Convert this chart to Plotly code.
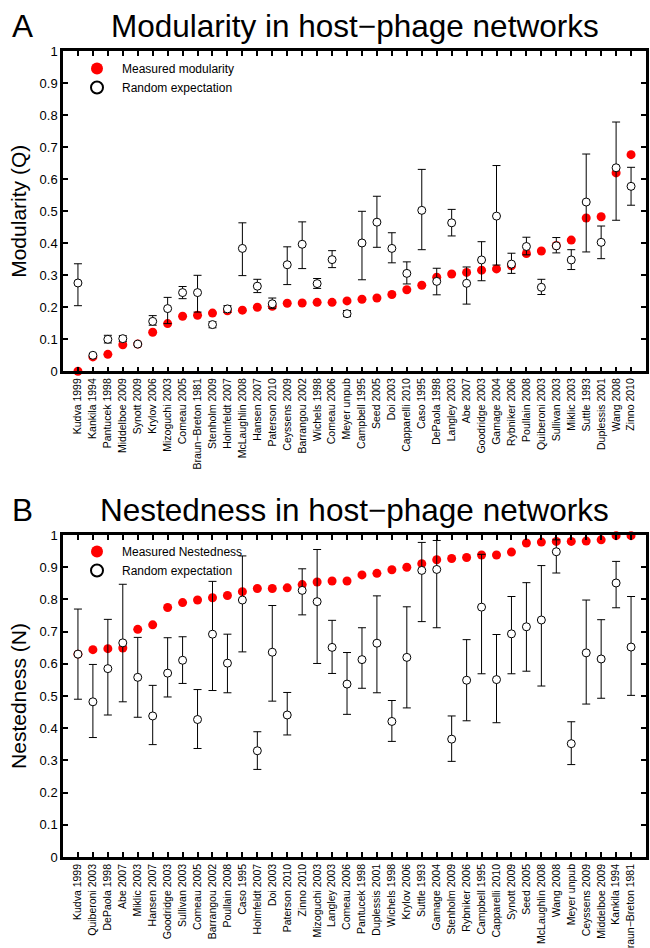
import plotly.graph_objects as go

# ---------------- Panel A: modularity ----------------
cats_A = ["Kudva 1999", "Kankila 1994", "Pantucek 1998", "Middelboe 2009", "Synott 2009",
          "Krylov 2006", "Mizoguchi 2003", "Comeau 2005", "Braun\u2212Breton 1981", "Stenholm 2009",
          "Holmfeldt 2007", "McLaughlin 2008", "Hansen 2007", "Paterson 2010", "Ceyssens 2009",
          "Barrangou 2002", "Wichels 1998", "Comeau 2006", "Meyer unpub", "Campbell 1995",
          "Seed 2005", "Doi 2003", "Capparelli 2010", "Caso 1995", "DePaola 1998",
          "Langley 2003", "Abe 2007", "Goodridge 2003", "Gamage 2004", "Rybniker 2006",
          "Poullain 2008", "Quiberoni 2003", "Sullivan 2003", "Miklic 2003", "Suttle 1993",
          "Duplessis 2001", "Wang 2008", "Zinno 2010"]
measured_A = [0.0, 0.045, 0.053, 0.083, 0.085, 0.122, 0.149, 0.172, 0.175, 0.182,
              0.189, 0.191, 0.200, 0.203, 0.2125, 0.2135, 0.2156, 0.2156, 0.22, 0.225,
              0.229, 0.24, 0.255, 0.269, 0.294, 0.304, 0.309, 0.316, 0.32, 0.33,
              0.368, 0.376, 0.393, 0.41, 0.479, 0.483, 0.62, 0.677]
random_A = [0.276, 0.05, 0.1, 0.102, 0.085, 0.156, 0.196, 0.246, 0.246, 0.146,
            0.195, 0.384, 0.266, 0.211, 0.333, 0.397, 0.274, 0.349, 0.18, 0.401,
            0.466, 0.384, 0.306, 0.503, 0.281, 0.464, 0.275, 0.348, 0.485, 0.335,
            0.39, 0.2625, 0.392, 0.348, 0.529, 0.403, 0.636, 0.578]
random_A_hi = [0.336, 0.055, 0.1125, 0.111, 0.09, 0.174, 0.231, 0.265, 0.3, 0.155,
               0.205, 0.464, 0.2875, 0.229, 0.389, 0.467, 0.29, 0.377, 0.19, 0.5,
               0.547, 0.433, 0.342, 0.631, 0.322, 0.506, 0.326, 0.405, 0.643, 0.369,
               0.419, 0.2875, 0.418, 0.38, 0.679, 0.454, 0.779, 0.6375]
random_A_lo = [0.205, 0.045, 0.0885, 0.093, 0.08, 0.144, 0.149, 0.227, 0.185, 0.136,
               0.184, 0.299, 0.246, 0.197, 0.271, 0.321, 0.259, 0.324, 0.171, 0.286,
               0.3875, 0.339, 0.273, 0.38, 0.239, 0.423, 0.21, 0.283, 0.332, 0.306,
               0.364, 0.24, 0.37, 0.318, 0.373, 0.352, 0.472, 0.519]

# ---------------- Panel B: nestedness ----------------
cats_B = ["Kudva 1999", "Quiberoni 2003", "DePaola 1998", "Abe 2007", "Miklic 2003",
          "Hansen 2007", "Goodridge 2003", "Sullivan 2003", "Comeau 2005", "Barrangou 2002",
          "Poullain 2008", "Caso 1995", "Holmfeldt 2007", "Doi 2003", "Paterson 2010",
          "Zinno 2010", "Mizoguchi 2003", "Langley 2003", "Comeau 2006", "Pantucek 1998",
          "Duplessis 2001", "Wichels 1998", "Krylov 2006", "Suttle 1993", "Gamage 2004",
          "Stenholm 2009", "Rybniker 2006", "Campbell 1995", "Capparelli 2010", "Synott 2009",
          "Seed 2005", "McLaughlin 2008", "Wang 2008", "Meyer unpub", "Ceyssens 2009",
          "Middelboe 2009", "Kankila 1994", "Braun\u2212Breton 1981"]
measured_B = [0.63, 0.644, 0.647, 0.649, 0.707, 0.721, 0.775, 0.79, 0.798, 0.805,
              0.812, 0.824, 0.834, 0.834, 0.836, 0.846, 0.854, 0.857, 0.857, 0.876,
              0.881, 0.892, 0.9, 0.911, 0.923, 0.927, 0.93, 0.938, 0.938, 0.947,
              0.975, 0.978, 0.98, 0.98, 0.981, 0.985, 0.998, 0.998]
random_B = [0.63, 0.482, 0.585, 0.665, 0.558, 0.438, 0.571, 0.611, 0.427, 0.692,
            0.602, 0.798, 0.33, 0.636, 0.441, 0.828, 0.793, 0.651, 0.537, 0.613,
            0.664, 0.421, 0.62, 0.89, 0.893, 0.366, 0.549, 0.776, 0.551, 0.693,
            0.715, 0.736, 0.948, 0.352, 0.634, 0.615, 0.851, 0.652]
random_B_hi = [0.77, 0.598, 0.738, 0.847, 0.682, 0.533, 0.681, 0.684, 0.52, 0.856,
               0.692, 0.935, 0.389, 0.781, 0.511, 0.895, 0.955, 0.735, 0.635, 0.712,
               0.811, 0.486, 0.777, 0.977, 0.983, 0.438, 0.675, 0.94, 0.691, 0.809,
               0.852, 0.905, 0.985, 0.42, 0.798, 0.737, 0.918, 0.809]
random_B_lo = [0.49, 0.371, 0.441, 0.482, 0.434, 0.349, 0.497, 0.539, 0.337, 0.517,
               0.51, 0.637, 0.272, 0.484, 0.379, 0.752, 0.601, 0.57, 0.443, 0.524,
               0.51, 0.359, 0.463, 0.731, 0.712, 0.297, 0.423, 0.569, 0.417, 0.569,
               0.577, 0.531, 0.882, 0.287, 0.475, 0.493, 0.774, 0.502]

y_ticks = [0, 0.1, 0.2, 0.3, 0.4, 0.5, 0.6, 0.7, 0.8, 0.9, 1]
y_ticktext = ["0", "0.1", "0.2", "0.3", "0.4", "0.5", "0.6", "0.7", "0.8", "0.9", "1"]

FONT = "Liberation Sans, Arial, Helvetica, sans-serif"
W, H = 650, 948

fig = go.Figure()


def add_panel(cats, measured, rnd, hi, lo, xa, ya, legend, label_meas):
    xs = list(range(1, len(cats) + 1))
    fig.add_trace(go.Scatter(
        x=xs, y=measured, mode="markers", name=label_meas,
        marker=dict(color="#ff0000", size=9, line=dict(width=0)),
        xaxis=xa, yaxis=ya, legend=legend, cliponaxis=False))
    fig.add_trace(go.Scatter(
        x=xs, y=rnd, mode="markers", name="Random expectation",
        marker=dict(color="white", size=8, line=dict(color="black", width=1)),
        error_y=dict(type="data", symmetric=False,
                     array=[h - m for h, m in zip(hi, rnd)],
                     arrayminus=[m - l for m, l in zip(rnd, lo)],
                     color="black", thickness=1, width=4),
        xaxis=xa, yaxis=ya, legend=legend, cliponaxis=False))


add_panel(cats_A, measured_A, random_A, random_A_hi, random_A_lo, "x", "y", "legend",
          "Measured modularity")
add_panel(cats_B, measured_B, random_B, random_B_hi, random_B_lo, "x2", "y2", "legend2",
          "Measured Nestedness")

xdom = [63 / W, 646 / W]
domA = [1 - 371.3 / H, 1 - 51.3 / H]
domB = [1 - 857 / H, 1 - 535 / H]

axis_common = dict(showline=True, linewidth=2.5, linecolor="black", mirror="allticks",
                   ticks="inside", tickcolor="black", tickwidth=2, ticklen=5,
                   showgrid=False, zeroline=False, automargin=False)


def xaxis_cfg(cats, anchor):
    return dict(axis_common, domain=xdom, range=[0, len(cats) + 1], anchor=anchor,
                tickmode="array", tickvals=list(range(1, len(cats) + 1)), ticktext=cats,
                tickangle=-90, tickfont=dict(family=FONT, size=10.5, color="black"))


def yaxis_cfg(dom, anchor, title):
    return dict(axis_common, domain=dom, range=[0, 1], anchor=anchor,
                tickmode="array", tickvals=y_ticks, ticktext=y_ticktext,
                tickfont=dict(family=FONT, size=13, color="black"),
                title=dict(text=title, font=dict(family=FONT, size=21, color="black"),
                           standoff=8))


legend_common = dict(xanchor="left", yanchor="top", bgcolor="rgba(0,0,0,0)",
                     font=dict(family=FONT, size=12, color="black"),
                     tracegroupgap=0, itemsizing="constant", itemwidth=40)

fig.update_layout(
    width=W, height=H,
    margin=dict(l=0, r=0, t=0, b=0, autoexpand=False),
    paper_bgcolor="white", plot_bgcolor="white",
    font=dict(family=FONT, color="black"),
    xaxis=xaxis_cfg(cats_A, "y"),
    yaxis=yaxis_cfg(domA, "x", "Modularity (Q)"),
    xaxis2=xaxis_cfg(cats_B, "y2"),
    yaxis2=yaxis_cfg(domB, "x2", "Nestedness (N)"),
    legend=dict(legend_common, x=72 / W, y=1 - 54 / H),
    legend2=dict(legend_common, x=72 / W, y=1 - 537 / H),
    showlegend=True,
)

titles = [("A", 22, 26), ("Modularity in host\u2212phage networks", 355, 26),
          ("B", 22, 510), ("Nestedness in host\u2212phage networks", 355, 510)]
for txt, xp, yp in titles:
    fig.add_annotation(text=txt, x=xp / W, y=1 - yp / H, xref="paper", yref="paper",
                       xanchor="center", yanchor="middle", showarrow=False,
                       font=dict(family=FONT, size=31.5, color="black"))

fig.write_html("out.html", config={"displayModeBar": False},
               post_script="document.body.style.margin='0';document.body.style.overflow='hidden';")
